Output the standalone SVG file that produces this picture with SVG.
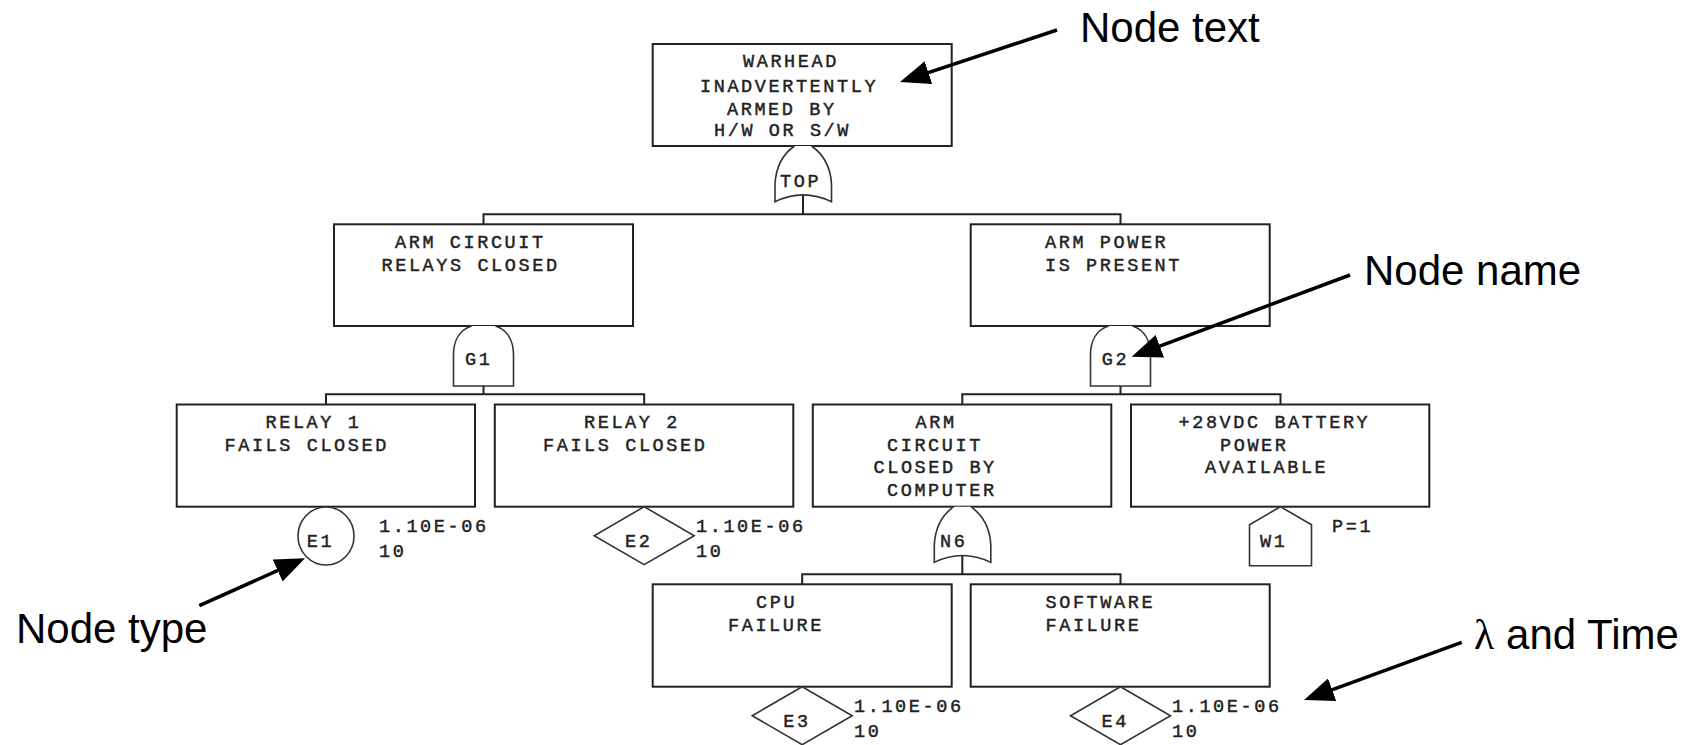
<svg xmlns="http://www.w3.org/2000/svg" width="1704" height="745" viewBox="0 0 1704 745">
<style>
.box{fill:#fff;stroke:#222;stroke-width:2}
.gate{fill:#fff;stroke:#333;stroke-width:1.6}
.conn{fill:none;stroke:#222;stroke-width:2}
.t{font-family:"Liberation Mono","DejaVu Sans Mono",monospace;font-size:18.5px;letter-spacing:2.6px;fill:#222;stroke:#222;stroke-width:0.45px}
.ann{font-family:"Liberation Sans",Arial,sans-serif;font-size:42px;fill:#000}
.arr{fill:none;stroke:#000;stroke-width:3.5;marker-end:url(#ah)}
</style>
<defs>
<marker id="ah" viewBox="0 0 30 24" refX="20" refY="12" markerWidth="30" markerHeight="24" markerUnits="userSpaceOnUse" orient="auto">
<path d="M0,0 L30,12 L0,24 z" fill="#000"/>
</marker>
<path id="orgate" d="M-8.5,0 C-20,8 -27,20 -28,38 L-28,55.7 Q0,42 28.5,55.7 L28.5,38 C27.5,20 20,8 8.5,0"/>
<path id="andgate" d="M-12,0 C-24,4 -30,15 -30,29 L-30,60 L30,60 L30,29 C30,15 24,4 12,0"/>
<path id="diamond" d="M0,0 L50,29 L0,58 L-50,29 z"/>
<path id="house" d="M0,0 L31,18 L31,59 L-31,59 L-31,18 z"/>
</defs>
<rect width="1704" height="745" fill="#fff"/>

<g id="connectors">
<path class="conn" d="M803,195 V214.3 M483.5,224.3 V214.3 H1120.5 V224.3"/>
<path class="conn" d="M483.5,386 V394.3 M326,404.5 V394.3 H644.2 V404.5"/>
<path class="conn" d="M1120.5,386 V394.3 M962.3,404.5 V394.3 H1280.5 V404.5"/>
<path class="conn" d="M962.3,555.7 V574.3 M802.2,584.3 V574.3 H1120.5 V584.3"/>
</g>

<g id="node-top">
<rect class="box" x="652.7" y="44" width="299" height="102"/>
<text class="t" x="743" y="66.7">WARHEAD</text>
<text class="t" x="700" y="91.7">INADVERTENTLY</text>
<text class="t" x="727" y="115">ARMED BY</text>
<text class="t" x="714" y="136">H/W OR S/W</text>
<use href="#orgate" class="gate" x="803" y="146"/>
<text class="t" x="780" y="186.7">TOP</text>
</g>

<g id="node-g1">
<rect class="box" x="334" y="224.3" width="299" height="101.7"/>
<text class="t" x="395" y="247.7">ARM CIRCUIT</text>
<text class="t" x="381.5" y="271">RELAYS CLOSED</text>
<use href="#andgate" class="gate" x="483.5" y="326"/>
<text class="t" x="465" y="365">G1</text>
</g>

<g id="node-g2">
<rect class="box" x="970.7" y="224.3" width="299" height="101.7"/>
<text class="t" x="1045" y="247.7">ARM POWER</text>
<text class="t" x="1045" y="271">IS PRESENT</text>
<use href="#andgate" class="gate" x="1120.5" y="326"/>
<text class="t" x="1101.7" y="365">G2</text>
</g>

<g id="node-e1">
<rect class="box" x="176.7" y="404.5" width="298.3" height="102.2"/>
<text class="t" x="265.5" y="427.7">RELAY 1</text>
<text class="t" x="224.5" y="451">FAILS CLOSED</text>
<ellipse class="gate" cx="326" cy="536" rx="28" ry="29"/>
<text class="t" x="306.7" y="546.7">E1</text>
<text class="t" x="379" y="531.7">1.10E-06</text>
<text class="t" x="379" y="556.7">10</text>
</g>

<g id="node-e2">
<rect class="box" x="494.8" y="404.5" width="298.5" height="102.2"/>
<text class="t" x="584" y="427.7">RELAY 2</text>
<text class="t" x="543" y="451">FAILS CLOSED</text>
<use href="#diamond" class="gate" x="644.2" y="506.7"/>
<text class="t" x="625" y="546.7">E2</text>
<text class="t" x="696" y="531.7">1.10E-06</text>
<text class="t" x="696" y="556.7">10</text>
</g>

<g id="node-n6">
<rect class="box" x="812.8" y="404.5" width="298.5" height="102.2"/>
<text class="t" x="915.5" y="427.7">ARM</text>
<text class="t" x="887" y="450.7">CIRCUIT</text>
<text class="t" x="873.5" y="473.3">CLOSED BY</text>
<text class="t" x="887" y="496">COMPUTER</text>
<use href="#orgate" class="gate" x="962.3" y="506.7"/>
<text class="t" x="940" y="547.4">N6</text>
</g>

<g id="node-w1">
<rect class="box" x="1131" y="404.5" width="298.3" height="102.2"/>
<text class="t" x="1178.5" y="427.7">+28VDC BATTERY</text>
<text class="t" x="1220" y="451">POWER</text>
<text class="t" x="1205" y="473.3">AVAILABLE</text>
<use href="#house" class="gate" x="1280.5" y="506.7"/>
<text class="t" x="1260" y="546.7">W1</text>
<text class="t" x="1332" y="531.7">P=1</text>
</g>

<g id="node-e3">
<rect class="box" x="652.7" y="584.3" width="299" height="102.4"/>
<text class="t" x="756" y="607.7">CPU</text>
<text class="t" x="728" y="631">FAILURE</text>
<use href="#diamond" class="gate" x="802.2" y="686.7"/>
<text class="t" x="783.3" y="726.7">E3</text>
<text class="t" x="854" y="711.7">1.10E-06</text>
<text class="t" x="854" y="736.7">10</text>
</g>

<g id="node-e4">
<rect class="box" x="970.7" y="584.3" width="299" height="102.4"/>
<text class="t" x="1045.5" y="607.7">SOFTWARE</text>
<text class="t" x="1045.5" y="631">FAILURE</text>
<use href="#diamond" class="gate" x="1120.5" y="686.7"/>
<text class="t" x="1101.5" y="726.7">E4</text>
<text class="t" x="1172" y="711.7">1.10E-06</text>
<text class="t" x="1172" y="736.7">10</text>
</g>

<g id="annotations">
<text class="ann" x="1080" y="42">Node text</text>
<path class="arr" d="M1057,30 L909.5,78.9"/>
<text class="ann" x="1364" y="285">Node name</text>
<path class="arr" d="M1350,275 L1141.1,353.2"/>
<text class="ann" x="16" y="643.3">Node type</text>
<path class="arr" d="M199.3,605.7 L295.9,562.4"/>
<text class="ann" x="1474" y="649.3"><tspan font-family="'Liberation Serif',serif">λ</tspan> and Time</text>
<path class="arr" d="M1461.7,642.3 L1313.4,696.6"/>
</g>
</svg>
